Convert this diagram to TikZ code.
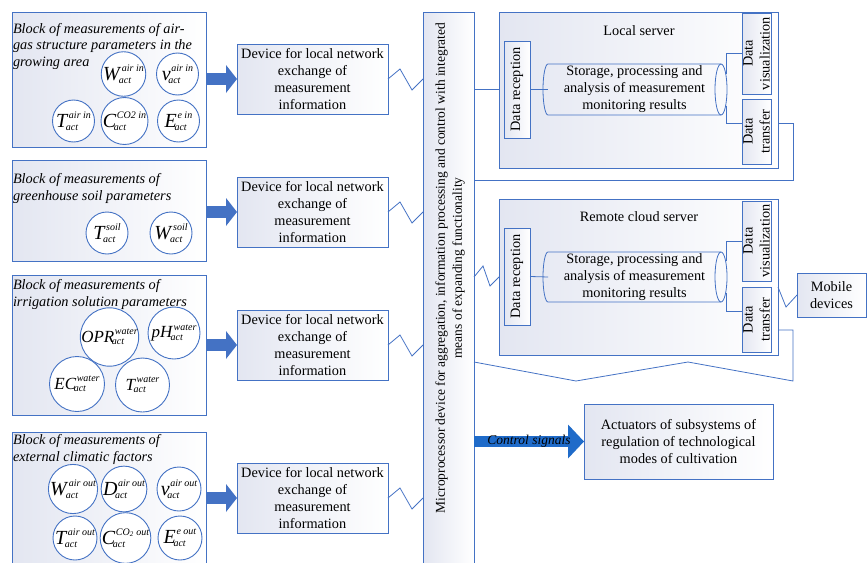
\documentclass[tikz,border=0pt]{standalone}
\usepackage{fontspec}
\setmainfont{Liberation Serif}
\usetikzlibrary{arrows.meta}
\definecolor{bl}{HTML}{4472C4}
\definecolor{arr}{HTML}{4472C4}
\definecolor{carr}{HTML}{1F6BC9}
\definecolor{shd}{HTML}{E3E6F1}
\newlength\msupr
\newlength\msubr
\newcommand\msym[3]{\textit{#1}\kern.03em\setlength\msupr{.44em}\setlength\msubr{-.14em}%
  {\fontsize{10}{10}\selectfont\itshape\setbox0\hbox{#2}\setbox2\hbox{#3}%
   \dimen0=\wd2 \advance\dimen0 by -3pt
   \ifdim\wd0>\dimen0 \dimen0=\wd0 \fi
   \makebox[\dimen0][l]{\rlap{\raisebox{\msupr}{\box0}}\kern-3pt\raisebox{\msubr}{\box2}}}}
\begin{document}
\begin{tikzpicture}[x=1pt,y=-1pt,
  every node/.style={inner sep=0pt,outer sep=0pt},
  sbox/.style={rectangle, draw=bl, line width=0.8pt, left color=shd, right color=white, anchor=north west},
  txt/.style={font=\fontsize{14.3}{17}\selectfont, align=center},
  ttl/.style={font=\fontsize{14.3}{16.5}\selectfont\itshape, align=left, anchor=base west},
  meas/.style={circle, draw=bl, line width=0.9pt, fill=white, minimum size=42pt, font=\fontsize{20}{22}\selectfont},
  measw/.style={meas, font=\fontsize{17}{19}\selectfont},
  link/.style={draw=bl, line width=0.8pt},
  barrow/.style={draw=arr, line width=12pt, -{Triangle[length=11pt,width=28pt,line width=0pt]}},
]
\useasboundingbox (0,0) rectangle (867,562);

% ---------- measurement blocks ----------
\node[sbox, minimum width=194pt, minimum height=135pt] (blk1) at (12,12) {};
\node[ttl] (t1) at (13,66) {Block of measurements of air-\\gas structure parameters in the\\growing area};
\node[meas] (m11) at (123.5,74) {\msym{W}{air in}{act}};
\node[meas] (m12) at (177.5,74) {\msym{v}{air in}{act}};
\node[meas] (m13) at (73.5,121) {\msym{T}{air in}{act}};
\node[meas] (m14) at (124.5,121) {\msym{C}{CO2 in}{act}};
\node[meas] (m15) at (178.5,121) {\msym{E}{e in}{act}};

\node[sbox, minimum width=194pt, minimum height=101pt] (blk2) at (12,160) {};
\node[ttl] (t2) at (13,200) {Block of measurements of\\greenhouse soil parameters};
\node[meas] (m21) at (107,233) {\msym{T}{soil}{act}};
\node[meas] (m22) at (171,233) {\msym{W}{soil}{act}};

\node[sbox, minimum width=194pt, minimum height=140pt] (blk3) at (12,275) {};
\node[ttl] (t3) at (13,306) {Block of measurements of\\irrigation solution parameters};
\node[measw, minimum size=54pt] (m31) at (109.5,337) {\msym{OPR}{water}{act}};
\node[measw, minimum size=52pt] (m32) at (174,333) {\msym{pH}{water}{act}};
\node[measw, minimum size=55pt] (m33) at (77,384) {\msym{EC}{water}{act}};
\node[measw, minimum size=54pt] (m34) at (142.5,385) {\msym{T}{water}{act}};

\node[sbox, minimum width=194pt, minimum height=140pt] (blk4) at (12,432) {};
\node[ttl] (t4) at (13,461) {Block of measurements of\\external climatic factors};
\node[meas, minimum size=44pt] (m41) at (73,489) {\msym{W}{air out}{act}};
\node[meas, minimum size=44pt] (m42) at (124,489) {\msym{D}{air out}{act}};
\node[meas, minimum size=44pt] (m43) at (179,489) {\msym{v}{air out}{act}};
\node[meas, minimum size=44pt] (m44) at (75,538) {\msym{T}{air out}{act}};
\node[meas, minimum size=44pt] (m45) at (125.5,538) {\msym{C}{CO\textsubscript{2} out}{act}};
\node[meas, minimum size=44pt] (m46) at (180,538) {\msym{E}{e out}{act}};

% ---------- network devices ----------
\node[sbox, txt, minimum width=151pt, minimum height=70pt] (dev1) at (237,44) {Device for local network\\exchange of\\measurement\\information};
\node[sbox, txt, minimum width=151pt, minimum height=70pt] (dev2) at (237,177) {Device for local network\\exchange of\\measurement\\information};
\node[sbox, txt, minimum width=151pt, minimum height=70pt] (dev3) at (237,310) {Device for local network\\exchange of\\measurement\\information};
\node[sbox, txt, minimum width=151pt, minimum height=70pt] (dev4) at (237,463) {Device for local network\\exchange of\\measurement\\information};

\draw[barrow] (blk1.east |- dev1.west) -- (dev1.west);
\draw[barrow] (blk2.east |- dev2.west) -- (dev2.west);
\draw[barrow] (blk3.east |- dev3.west) -- (dev3.west);
\draw[barrow] (blk4.east |- dev4.west) -- (dev4.west);

% ---------- microprocessor ----------
\node[sbox, minimum width=51pt, minimum height=560pt] (mp) at (423,12) {};
\node[txt, font=\fontsize{13.5}{17}\selectfont, rotate=90] (mpt) at (450,268) {Microprocessor device for aggregation, information processing and control with integrated\\means of expanding functionality};

\draw[link] (dev1.east) -- ++(12,-10) -- ++(12,21) -- (mp.west |- dev1.east);
\draw[link] (dev2.east) -- ++(12,-10) -- ++(12,21) -- (mp.west |- dev2.east);
\draw[link] (dev3.east) -- ++(12,-10) -- ++(12,21) -- (mp.west |- dev3.east);
\draw[link] (dev4.east) -- ++(12,-10) -- ++(12,21) -- (mp.west |- dev4.east);

% ---------- local server ----------
\node[sbox, minimum width=279pt, minimum height=156pt] (srv1) at (499,12) {};
\node[txt] (srv1t) at (639,31) {Local server};
\node[sbox, minimum width=26pt, minimum height=97pt] (dr1) at (504,41) {};
\node[txt, rotate=90] (dr1t) at (dr1.center) {Data reception};
\node[txt, minimum width=173pt, minimum height=51pt] (cy1) at (634.5,89.5) {Storage, processing and\\analysis of measurement\\monitoring results};
\draw[link] (cy1.north east) -- (cy1.north west) arc[start angle=90,end angle=270,x radius=5pt,y radius=25.5pt] -- (cy1.south east);
\draw[link] (cy1.east) ellipse[x radius=6pt,y radius=25.5pt];
\node[sbox, minimum width=29pt, minimum height=81pt] (dv1) at (742,13) {};
\node[txt, rotate=90] (dv1t) at (dv1.center) {Data\\visualization};
\node[sbox, minimum width=29pt, minimum height=65pt] (dt1) at (742,99) {};
\node[txt, rotate=90] (dt1t) at (dt1.center) {Data\\transfer};

\draw[link] (mp.east |- dr1.west) -- (srv1.west |- dr1.west);
\draw[link] (dr1.east) -- (cy1.west);
\draw[link] ([xshift=5pt,yshift=16pt]cy1.east) |- (dv1.west);
\draw[link] ([xshift=5pt,yshift=-16pt]cy1.east) |- ([yshift=8pt]dt1.west);
\draw[link] ([yshift=-33pt]srv1.east) -- ++(15,0) |- (mp.east |- 0,180);

% ---------- remote cloud server ----------
\node[sbox, minimum width=279pt, minimum height=156pt] (srv2) at (499,199) {};
\node[txt] (srv2t) at (639,217) {Remote cloud server};
\node[sbox, minimum width=26pt, minimum height=97pt] (dr2) at (504,228) {};
\node[txt, rotate=90] (dr2t) at (dr2.center) {Data reception};
\node[txt, minimum width=173pt, minimum height=50pt] (cy2) at (634.5,277) {Storage, processing and\\analysis of measurement\\monitoring results};
\draw[link] (cy2.north east) -- (cy2.north west) arc[start angle=90,end angle=270,x radius=5pt,y radius=25pt] -- (cy2.south east);
\draw[link] (cy2.east) ellipse[x radius=6pt,y radius=25pt];
\node[sbox, minimum width=29pt, minimum height=80pt] (dv2) at (742,201) {};
\node[txt, rotate=90] (dv2t) at (dv2.center) {Data\\visualization};
\node[sbox, minimum width=29pt, minimum height=65pt] (dt2) at (742,287) {};
\node[txt, rotate=90] (dt2t) at (dt2.center) {Data\\transfer};

\draw[link] (mp.east |- srv2.west) -- ++(9,-11) -- ++(7,20) -- (srv2.west);
\draw[link] (dr2.east) -- (cy2.west);
\draw[link] ([xshift=5pt,yshift=16pt]cy2.east) |- (dv2.west);
\draw[link] ([xshift=5pt,yshift=-16pt]cy2.east) |- ([yshift=8pt]dt2.west);
\draw[link] ([yshift=-53pt]srv2.east) -- ++(15,0) -- ++(0,51) -- ++(-105,-19) -- ++(-112,19) -- (mp.east |- 0,362);

% ---------- mobile devices ----------
\node[sbox, txt, minimum width=69pt, minimum height=44pt] (mob) at (797,273) {Mobile\\devices};
\draw[link] ([yshift=-10pt]srv2.east) -- ++(8,20) -- (mob.west);

% ---------- actuators ----------
\node[sbox, txt, minimum width=189pt, minimum height=75pt] (act) at (584,404) {Actuators of subsystems of\\regulation of technological\\modes of cultivation};
\draw[draw=carr, line width=11pt, -{Triangle[length=16pt,width=34pt,line width=0pt]}] (mp.east |- act.west) -- node[font=\fontsize{13.5}{15}\selectfont\itshape] (cs) {Control signals} (act.west);
\end{tikzpicture}
\end{document}
